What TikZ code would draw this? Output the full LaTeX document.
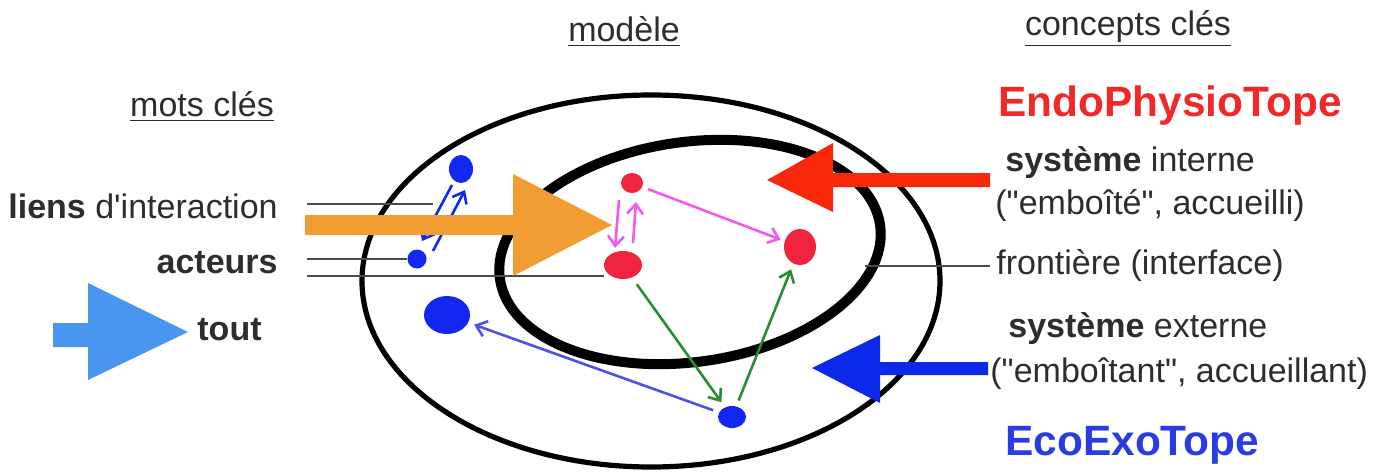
\documentclass[tikz,border=0pt]{standalone}
\usepackage{fontspec}
\setmainfont{Liberation Sans}
\usetikzlibrary{arrows.meta,shapes.geometric}

\definecolor{txtgrey}{RGB}{45,45,45}
\definecolor{linegrey}{RGB}{75,75,75}
\definecolor{bigorange}{RGB}{240,158,52}
\definecolor{bigred}{RGB}{250,40,10}
\definecolor{bigblue}{RGB}{12,40,232}
\definecolor{skyblue}{RGB}{72,150,240}
\definecolor{dotblue}{RGB}{18,40,240}
\definecolor{dotred}{RGB}{240,36,60}
\definecolor{pinkarrow}{RGB}{240,90,240}
\definecolor{greenarrow}{RGB}{40,140,50}
\definecolor{violetarrow}{RGB}{80,80,230}
\definecolor{endored}{RGB}{240,40,40}
\definecolor{ecoblue}{RGB}{40,60,225}

\begin{document}
\begin{tikzpicture}[x=0.5pt,y=-0.5pt,
  lbl/.style={inner sep=0pt,text=txtgrey,font=\fontsize{17}{20}\selectfont},
  bigword/.style={inner sep=0pt,font=\fontsize{21.2}{24}\selectfont\bfseries},
  dot/.style={ellipse,inner sep=0pt,draw=none},
  link/.style={line width=1.3pt,-{Straight Barb[length=5pt,width=8pt,line width=1.3pt]}},
  guide/.style={draw=linegrey,line width=1.4pt}
]
\useasboundingbox (0,0) rectangle (1380,476);

% nested systems: outer (host) and inner (hosted) boundaries
\draw[line width=2.6pt] (651,281) ellipse [x radius=289*0.5pt, y radius=186*0.5pt];
\draw[line width=5pt,rotate around={8:(690,252)}] (690,252) ellipse [x radius=192*0.5pt, y radius=110*0.5pt];

% actors
\node[dot,fill=dotblue,minimum width=12pt,minimum height=14pt] (b1) at (461,169) {};
\node[dot,fill=dotblue,minimum width=9.5pt,minimum height=9.5pt] (b2) at (417,259) {};
\node[dot,fill=dotblue,minimum width=23pt,minimum height=19pt] (bl) at (447,315) {};
\node[dot,fill=dotblue,minimum width=14pt,minimum height=11pt] (bb) at (732,417) {};
\node[dot,fill=dotred,minimum width=11pt,minimum height=10pt] (rt) at (632,183) {};
\node[dot,fill=dotred,minimum width=19pt,minimum height=14pt] (rb) at (623,265) {};
\node[dot,fill=dotred,minimum width=16pt,minimum height=18pt] (rr) at (800,247) {};

% guide lines towards the key words
\coordinate (g1) at (307,204);
\coordinate (g1e) at (433,204);
\coordinate (g2) at (307,259);
\coordinate (g3) at (307,276);
\coordinate (g4) at (865,266);
\coordinate (g4e) at (990,266);
\draw[guide] (g1) -- (g1e);
\draw[guide] (g2) -- (b2.west);
\draw[guide] (g3) -- (rb.west |- g3);
\draw[guide] (g4) -- (g4e);

% interaction links
\draw[link,draw=dotblue] ([shift={(16,-8)}]b2.center) -- ([shift={(4,21)}]b1.center);
\draw[link,draw=dotblue] ([shift={(-9,16)}]b1.center) -- ([shift={(5,-18)}]b2.center);
\draw[link,draw=pinkarrow] ([shift={(-13,17)}]rt.center) -- ([shift={(-8,-17)}]rb.center);
\draw[link,draw=pinkarrow] ([shift={(10,-22)}]rb.center) -- ([shift={(4,19)}]rt.center);
\draw[link,draw=pinkarrow,shorten <=3pt,shorten >=2pt] (rt) -- (rr);
\draw[link,draw=greenarrow,shorten <=4pt,shorten >=3pt] (rb) -- (bb);
\draw[link,draw=greenarrow,shorten <=3pt,shorten >=3pt] (bb) -- (rr);
\draw[link,draw=violetarrow,shorten <=3pt,shorten >=3pt] (bb) -- (bl);

% block arrows
\fill[bigorange] (305,215) -- (513,215) -- (513,174) -- (612,225) -- (513,276) -- (513,235) -- (305,235) -- cycle;
\fill[bigred] (990,173) -- (833,173) -- (833,143) -- (767,180) -- (833,212) -- (833,187) -- (990,187) -- cycle;
\fill[bigblue] (988,362) -- (880,362) -- (880,335) -- (812,368) -- (880,403) -- (880,375) -- (988,375) -- cycle;
\fill[skyblue] (53,323) -- (88,323) -- (88,283) -- (188,332) -- (88,380) -- (88,347) -- (53,347) -- cycle;

% headings
\node[lbl,anchor=base] (mots) at (202,117) {\underline{mots clés}};
\node[lbl,anchor=base] (modele) at (624,42) {\underline{modèle}};
\node[lbl,anchor=base] (concepts) at (1128,36) {\underline{concepts clés}};

% key words
\node[lbl,anchor=base east] (liens) at (278,218) {\textbf{liens} d\textquotesingle interaction};
\node[lbl,anchor=base east] (acteurs) at (278,273) {\textbf{acteurs}};
\node[lbl,anchor=base west] (tout) at (197,340) {\textbf{tout}};

% key concepts
\node[bigword,text=endored,anchor=base west] (endo) at (998,117) {EndoPhysioTope};
\node[lbl,anchor=base west] (sysint) at (1005,171) {\textbf{système} interne};
\node[lbl,anchor=base west] (emb1) at (995,214) {(\textquotedbl emboîté\textquotedbl, accueilli)};
\node[lbl,anchor=base west] (front) at (996,274) {frontière (interface)};
\node[lbl,anchor=base west] (sysext) at (1008,337) {\textbf{système} externe};
\node[lbl,anchor=base west] (emb2) at (990,382) {(\textquotedbl emboîtant\textquotedbl, accueillant)};
\node[bigword,text=ecoblue,anchor=base west] (eco) at (1005,455) {EcoExoTope};
\end{tikzpicture}
\end{document}
